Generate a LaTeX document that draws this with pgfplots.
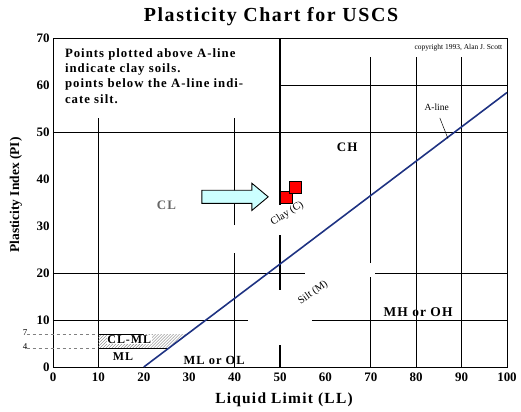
\documentclass[border=0pt]{standalone}
\usepackage{pgfplots}
\pgfplotsset{compat=1.18}
\usepackage{fontspec}
\setmainfont{Liberation Serif}
\newfontfamily\wide[LetterSpace=8]{Liberation Serif}
\usetikzlibrary{patterns}
\definecolor{aline}{RGB}{30,50,130}
\definecolor{arrowfill}{RGB}{204,255,255}
\begin{document}
\begin{tikzpicture}
\useasboundingbox (-53bp,-45bp) rectangle (468bp,367bp);
\begin{axis}[
  at={(0,0)}, anchor=south west,
  scale only axis, width=454bp, height=329bp,
  xmin=0, xmax=100, ymin=0, ymax=70,
  xtick={0,10,...,100}, ytick={0,10,...,70},
  major tick length=0pt,
  axis line style={line width=1pt},
  /pgf/number format/assume math mode=true,
  ticklabel style={font=\fontsize{13}{13}\selectfont\bfseries},
  xticklabel style={yshift=-2bp},
  clip=false,
]
% grid segments
\draw[line width=0.7pt] (axis cs:10,0) -- (axis cs:10,53);
\draw[line width=0.7pt] (axis cs:40,0) -- (axis cs:40,24.3);
\draw[line width=0.7pt] (axis cs:40,30.2) -- (axis cs:40,53);
\draw[line width=1.4pt] (axis cs:50,0) -- (axis cs:50,4.7);
\draw[line width=1.4pt] (axis cs:50,16.4) -- (axis cs:50,28.1);
\draw[line width=1.4pt] (axis cs:50,34.5) -- (axis cs:50,70);
\draw[line width=0.7pt] (axis cs:70,0) -- (axis cs:70,19.1);
\draw[line width=0.7pt] (axis cs:70,22.1) -- (axis cs:70,66);
\draw[line width=0.7pt] (axis cs:80,0) -- (axis cs:80,66);
\draw[line width=0.7pt] (axis cs:90,0) -- (axis cs:90,66);
\draw[line width=0.7pt] (axis cs:0,10) -- (axis cs:43,10);
\draw[line width=0.7pt] (axis cs:57,10) -- (axis cs:100,10);
\draw[line width=0.7pt] (axis cs:0,20) -- (axis cs:55.5,20);
\draw[line width=0.7pt] (axis cs:71,20) -- (axis cs:100,20);
\draw[line width=0.7pt] (axis cs:0,50) -- (axis cs:100,50);
\draw[line width=0.7pt] (axis cs:50,60) -- (axis cs:100,60);
% CL-ML hatched zone
\fill[pattern=north east lines, pattern color=gray] (axis cs:10,4) -- (axis cs:25.5,4) -- (axis cs:29.6,7) -- (axis cs:10,7) -- cycle;
\draw[line width=0.6pt] (axis cs:10,7) -- (axis cs:20,7);
\draw[line width=0.6pt] (axis cs:10,4) -- (axis cs:25.5,4);
\draw[gray, dashed, line width=0.6pt] (axis cs:-5.8,7) -- (axis cs:10,7);
\draw[gray, dashed, line width=0.6pt] (axis cs:-5.8,4) -- (axis cs:10,4);
\node[font=\fontsize{9}{9}\selectfont, anchor=east, inner sep=0pt] at (axis cs:-5.6,7.3) {7};
\node[font=\fontsize{9}{9}\selectfont, anchor=east, inner sep=0pt] at (axis cs:-5.6,4.3) {4};
\node[font=\wide\fontsize{12}{12}\selectfont\bfseries, fill=white, inner sep=0.5pt] at (axis cs:16.8,5.8) {CL-ML};
\node[font=\wide\fontsize{12}{12}\selectfont\bfseries] at (axis cs:15.4,2.2) {ML};
% A-line
\addplot[color=aline, line width=1.6pt] coordinates {(20,0) (100,58.4)};
\draw[line width=0.5pt] (axis cs:85.2,53) -- (axis cs:87,48.6);
\node[font=\fontsize{9.5}{9.5}\selectfont] at (axis cs:84.5,55.2) {A-line};
% labels
\node[font=\wide\fontsize{13}{13}\selectfont\bfseries] at (axis cs:64.8,46.8) {CH};
\node[font=\wide\fontsize{13}{13}\selectfont\bfseries, text=gray!80!black] at (axis cs:25,34.5) {CL};
\node[font=\wide\fontsize{13.5}{13.5}\selectfont\bfseries] at (axis cs:80.4,11.7) {MH or OH};
\node[font=\wide\fontsize{12.5}{12.5}\selectfont\bfseries] at (axis cs:35.5,1.5) {ML or OL};
\node[font=\fontsize{10.5}{10.5}\selectfont, rotate=32] at (axis cs:51.6,32.6) {Clay (C)};
\node[font=\fontsize{10.5}{10.5}\selectfont, rotate=35] at (axis cs:57.3,15.8) {Silt (M)};
% text box
\node[font=\wide\fontsize{12.8}{15.3}\selectfont\bfseries, anchor=north west, align=left, inner sep=0pt] at (axis cs:2.6,67.8)
  {Points plotted above A-line\\indicate clay soils.\\points below the A-line indi-\\cate silt.};
\node[font=\fontsize{7.5}{7.5}\selectfont, anchor=east, fill=white, inner sep=1pt] at (axis cs:99.2,68) {copyright 1993, Alan J. Scott};
% arrow
\draw[fill=arrowfill, line width=0.9pt] (axis cs:32.8,34.8) -- (axis cs:43.8,34.8) -- (axis cs:43.8,33.3) -- (axis cs:47.4,36.2) -- (axis cs:43.8,39.1) -- (axis cs:43.8,37.6) -- (axis cs:32.8,37.6) -- cycle;
% data points
\addplot[only marks, mark=square*, mark size=6bp, mark options={fill=red, draw=black, line width=0.8pt}] coordinates {(51.5,36.0) (53.5,38.3)};
\end{axis}
\node[font=\wide\fontsize{20}{20}\selectfont\bfseries] at (218bp,350bp) {Plasticity Chart for USCS};
\node[font=\wide\fontsize{15.5}{15.5}\selectfont\bfseries] at (231bp,-33bp) {Liquid Limit (LL)};
\node[font=\fontsize{13.5}{13.5}\selectfont\bfseries, rotate=90] at (-37bp,172bp) {Plasticity Index (PI)};
\end{tikzpicture}
\end{document}
